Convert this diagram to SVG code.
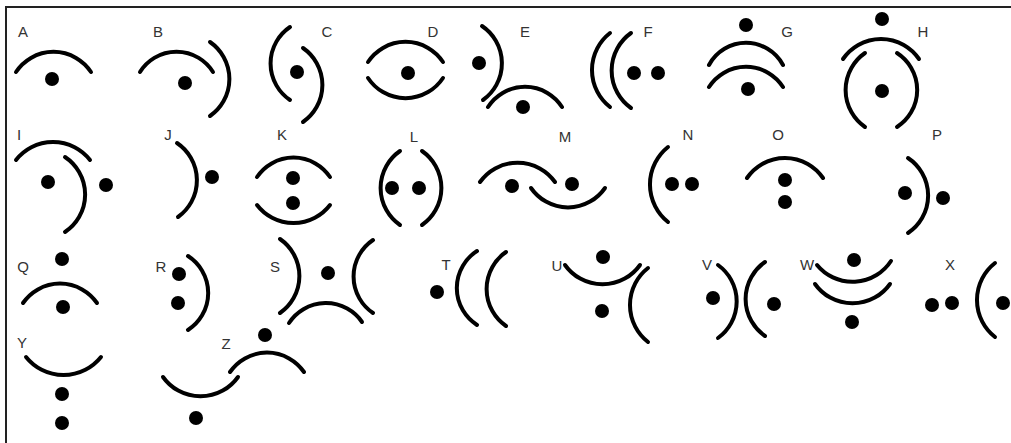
<svg xmlns="http://www.w3.org/2000/svg" width="1011" height="443" viewBox="0 0 1011 443">
<style>
.a{fill:none;stroke:#000;stroke-width:4;stroke-linecap:round}
.d{fill:#000}
.t{font-family:"Liberation Sans",Arial,sans-serif;font-size:15px;fill:#333;text-anchor:middle}
</style>
<rect width="1011" height="443" fill="#fff"/>
<path d="M6,443 V7 H1011" fill="none" stroke="#222" stroke-width="2"/>
<g id="A"><text class="t" x="23" y="37">A</text><path class="a" d="M16,72 A45,45 0 0 1 91,72"/><circle class="d" cx="52" cy="79" r="7"/></g>
<g id="B"><text class="t" x="158" y="37">B</text><path class="a" d="M140,72 A43,43 0 0 1 213,72"/><path class="a" d="M210,42 A45,45 0 0 1 210,116"/><circle class="d" cx="185" cy="83" r="7"/></g>
<g id="C"><text class="t" x="327" y="37">C</text><path class="a" d="M290,27 A44,44 0 0 0 290,100"/><path class="a" d="M303,48 A45,45 0 0 1 303,122"/><circle class="d" cx="297" cy="72" r="7"/></g>
<g id="D"><text class="t" x="433" y="37">D</text><path class="a" d="M368,62 A45,45 0 0 1 443,62"/><path class="a" d="M368,78 A45,45 0 0 0 443,78"/><circle class="d" cx="408" cy="73" r="7"/></g>
<g id="E"><text class="t" x="525" y="37">E</text><path class="a" d="M482,26 A45,45 0 0 1 483,100"/><path class="a" d="M488,107 A44,44 0 0 1 562,107"/><circle class="d" cx="479" cy="63" r="7"/><circle class="d" cx="523" cy="107" r="7"/></g>
<g id="F"><text class="t" x="648" y="37">F</text><path class="a" d="M610,33 A47,47 0 0 0 610,107"/><path class="a" d="M631,33 A46,46 0 0 0 631,108"/><circle class="d" cx="634" cy="73" r="7"/><circle class="d" cx="658" cy="73" r="7"/></g>
<g id="G"><text class="t" x="787" y="37">G</text><circle class="d" cx="746" cy="25" r="7"/><path class="a" d="M709,65 A42,42 0 0 1 783,65"/><path class="a" d="M709,87 A44,44 0 0 1 783,87"/><circle class="d" cx="748" cy="89" r="7"/></g>
<g id="H"><text class="t" x="923" y="37">H</text><circle class="d" cx="882" cy="19" r="7"/><path class="a" d="M843,59 A46,46 0 0 1 919,59"/><path class="a" d="M865,53 A45,45 0 0 0 865,127"/><path class="a" d="M897,53 A44,44 0 0 1 897,127"/><circle class="d" cx="882" cy="91" r="7"/></g>
<g id="I"><text class="t" x="19" y="140">I</text><path class="a" d="M16,160 A47,47 0 0 1 90,160"/><path class="a" d="M65,157 A45,45 0 0 1 65,232"/><circle class="d" cx="48" cy="182" r="7"/><circle class="d" cx="106" cy="185" r="7"/></g>
<g id="J"><text class="t" x="168" y="140">J</text><path class="a" d="M177,143 A45,45 0 0 1 178,217"/><circle class="d" cx="212" cy="177" r="7"/></g>
<g id="K"><text class="t" x="282" y="140">K</text><path class="a" d="M257,177 A44,44 0 0 1 330,177"/><path class="a" d="M257,205 A46,46 0 0 0 330,205"/><circle class="d" cx="293" cy="178" r="7"/><circle class="d" cx="293" cy="203" r="7"/></g>
<g id="L"><text class="t" x="414" y="142">L</text><path class="a" d="M400,151 A45,45 0 0 0 400,225"/><path class="a" d="M422,151 A45,45 0 0 1 422,225"/><circle class="d" cx="392" cy="188" r="7"/><circle class="d" cx="419" cy="188" r="7"/></g>
<g id="M"><text class="t" x="565" y="142">M</text><path class="a" d="M480,182 A46,46 0 0 1 555,182"/><path class="a" d="M531,188 A45,45 0 0 0 605,188"/><circle class="d" cx="512" cy="186" r="7"/><circle class="d" cx="572" cy="184" r="7"/></g>
<g id="N"><text class="t" x="688" y="140">N</text><path class="a" d="M668,147 A48,48 0 0 0 668,222"/><circle class="d" cx="672" cy="184" r="7"/><circle class="d" cx="692" cy="184" r="7"/></g>
<g id="O"><text class="t" x="778" y="140">O</text><path class="a" d="M747,178 A46,46 0 0 1 823,178"/><circle class="d" cx="785" cy="180" r="7"/><circle class="d" cx="785" cy="202" r="7"/></g>
<g id="P"><text class="t" x="937" y="140">P</text><path class="a" d="M908,158 A45,45 0 0 1 908,233"/><circle class="d" cx="905" cy="193" r="7"/><circle class="d" cx="943" cy="198" r="7"/></g>
<g id="Q"><text class="t" x="23" y="272">Q</text><circle class="d" cx="62" cy="259" r="7"/><path class="a" d="M23,303 A45,45 0 0 1 97,303"/><circle class="d" cx="63" cy="307" r="7"/></g>
<g id="R"><text class="t" x="161" y="272">R</text><path class="a" d="M188,256 A44,44 0 0 1 188,330"/><circle class="d" cx="179" cy="274" r="7"/><circle class="d" cx="178" cy="303" r="7"/></g>
<g id="S"><text class="t" x="275" y="272">S</text><path class="a" d="M280,239 A45,45 0 0 1 280,313"/><path class="a" d="M289,323 A44,44 0 0 1 362,322"/><path class="a" d="M373,240 A44,44 0 0 0 373,313"/><circle class="d" cx="328" cy="273" r="7"/></g>
<g id="T"><text class="t" x="446" y="270">T</text><circle class="d" cx="437" cy="292" r="7"/><path class="a" d="M477,251 A44,44 0 0 0 477,325"/><path class="a" d="M506,252 A45,45 0 0 0 506,326"/></g>
<g id="U"><text class="t" x="557" y="271">U</text><circle class="d" cx="603" cy="257" r="7"/><path class="a" d="M565,265 A46,46 0 0 0 640,265"/><circle class="d" cx="602" cy="311" r="7"/><path class="a" d="M648,268 A47,47 0 0 0 648,342"/></g>
<g id="V"><text class="t" x="707" y="270">V</text><circle class="d" cx="713" cy="298" r="7"/><path class="a" d="M718,265 A45,45 0 0 1 718,338"/><path class="a" d="M765,262 A45,45 0 0 0 765,336"/><circle class="d" cx="774" cy="304" r="7"/></g>
<g id="W"><text class="t" x="807" y="270">W</text><circle class="d" cx="854" cy="260" r="7"/><path class="a" d="M817,265 A46,46 0 0 0 891,261"/><path class="a" d="M815,284 A46,46 0 0 0 890,284"/><circle class="d" cx="852" cy="322" r="7"/></g>
<g id="X"><text class="t" x="950" y="270">X</text><circle class="d" cx="932" cy="305" r="7"/><circle class="d" cx="952" cy="303" r="7"/><path class="a" d="M995,263 A47,47 0 0 0 995,337"/><circle class="d" cx="1003" cy="303" r="7"/></g>
<g id="Y"><text class="t" x="22" y="348">Y</text><path class="a" d="M26,357 A48,48 0 0 0 101,357"/><circle class="d" cx="62" cy="394" r="7"/><circle class="d" cx="62" cy="423" r="7"/></g>
<g id="Z"><text class="t" x="226" y="349">Z</text><circle class="d" cx="265" cy="335" r="7"/><path class="a" d="M230,372 A45,45 0 0 1 304,372"/><path class="a" d="M163,377 A46,46 0 0 0 238,377"/><circle class="d" cx="196" cy="418" r="7"/></g>
</svg>
